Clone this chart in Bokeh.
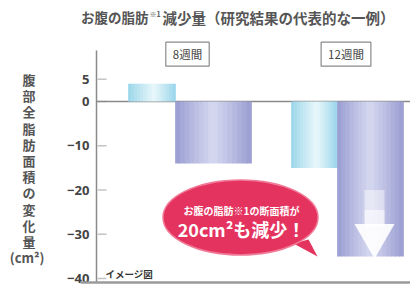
from bokeh.plotting import figure
from bokeh.models import Range1d, FixedTicker, Span, Label, LinearAxis
from bokeh.embed import file_html
from bokeh.resources import INLINE

# ---- data ----
groups = ["8週間", "12週間"]
series = ["対照", "試験"]
control = [4, -15]      # light cyan bars
test = [-14, -35]       # purple bars
y_ticks = [5, 0, -10, -20, -30, -40]
title_a = "お腹の脂肪"
title_note = "※1"
title_b = "減少量（研究結果の代表的な一例）"
y_label_chars = list("腹部全脂肪面積の変化量") + ["(cm²)"]
callout_small = "お腹の脂肪※1の断面積が"
image_note = "イメージ図"

# ---- layout (x units are screen pixels, 0 = value axis) ----
CYAN_X = [55.5, 218]
CYAN_W = [47, 46]
PURP_X = [117, 274]
PURP_W = [76, 66]
GROUP_X = [91, 249.5]
JP = "Noto Sans CJK JP"
X_LEFT, X_RIGHT = -16, 314
Y_TOP, Y_BOT = 22.82, -42.03
AXIS_TOP = 11.5
BOTTOM_LINE = -40.9

p = figure(width=410, height=287, output_backend="svg", toolbar_location=None,
           x_range=Range1d(X_LEFT, X_RIGHT), y_range=Range1d(Y_BOT, Y_TOP),
           x_axis_location=None, min_border_left=80, min_border_right=0,
           min_border_top=0, min_border_bottom=0)
p.outline_line_color = None
p.xgrid.visible = False
p.ygrid.visible = False
p.background_fill_color = "white"
p.border_fill_color = "white"

ax = p.yaxis[0]
ax.ticker = FixedTicker(ticks=y_ticks)
ax.axis_line_color = None
ax.major_tick_in = 0
ax.major_tick_out = 0
ax.major_tick_line_color = None
ax.minor_tick_line_color = None
ax.major_label_text_font = "Noto Sans"
ax.major_label_text_font_style = "bold"
ax.major_label_text_font_size = "13px"
ax.major_label_text_color = "#444444"
ax.major_label_standoff = -9

# stacked vertical axis title, drawn as a label-only axis
PAD = "\u2002\u2009"
STEP = 16.2
p.extra_y_ranges = {"lab": Range1d(79 / STEP - 287 / STEP, 79 / STEP)}
lab_ax = LinearAxis(y_range_name="lab")
lab_ax.ticker = FixedTicker(ticks=[-k for k in range(len(y_label_chars))])
lab_ax.major_label_overrides = {-k: (c + PAD if len(c) == 1 else c) for k, c in enumerate(y_label_chars)}
lab_ax.axis_line_color = None
lab_ax.major_tick_line_color = None
lab_ax.minor_tick_line_color = None
lab_ax.major_label_standoff = 14
lab_ax.major_label_text_font = JP
lab_ax.major_label_text_font_style = "bold"
lab_ax.major_label_text_font_size = "13px"
lab_ax.major_label_text_color = "#555555"
p.add_layout(lab_ax, "left")


def hexrgb(h):
    h = h.lstrip("#")
    return tuple(int(h[i:i + 2], 16) for i in (0, 2, 4))


def mix(a, b, f):
    ca, cb = hexrgb(a), hexrgb(b)
    return "#%02x%02x%02x" % tuple(int(round(ca[i] + (cb[i] - ca[i]) * f)) for i in range(3))


def grad_bar(xc, w, val, edge, center, peak=0.5, n=16):
    xs, ws, cols = [], [], []
    for i in range(n):
        t = (i + 0.5) / n
        d = (t - peak) / (peak if t < peak else 1 - peak)
        f = max(0.0, 1 - abs(d)) ** 0.9
        xs.append(xc - w / 2 + (i + 0.5) * w / n)
        ws.append(w / n + 0.7)
        cols.append(mix(edge, center, f))
    p.vbar(x=xs, width=ws, top=[val] * n, bottom=[0] * n,
           fill_color=cols, line_color=None)


# axis line, tick marks, zero line, bottom line
p.segment(x0=[0], y0=[BOTTOM_LINE], x1=[0], y1=[AXIS_TOP], line_color="#8a8a8a", line_width=1.5)
p.segment(x0=[1] * len(y_ticks), y0=y_ticks, x1=[10] * len(y_ticks), y1=y_ticks,
          line_color="#c4c4c4", line_width=1.5)
p.segment(x0=[0], y0=[0], x1=[X_RIGHT], y1=[0], line_color="#8a8a8a", line_width=1.5)
p.add_layout(Span(location=BOTTOM_LINE, dimension="width", line_color="#9a9a9a", line_width=2.5))

for i in range(len(groups)):
    grad_bar(CYAN_X[i], CYAN_W[i], control[i], "#98d5ea", "#e8f7fb", peak=0.55)
    grad_bar(PURP_X[i], PURP_W[i], test[i], "#979bd0", "#d6d8f0", peak=0.5)

# down arrow in the big bar
ax_x = PURP_X[1] + 4
tip = test[1] + 2.0
p.vbar(x=[ax_x], width=[20], top=[tip + 13], bottom=[tip + 4.8],
       fill_color="white", fill_alpha=0.45, line_color=None)
p.vbar(x=[ax_x], width=[20], top=[tip + 8.5], bottom=[tip + 4.8],
       fill_color="white", fill_alpha=0.5, line_color=None)
p.scatter(x=[ax_x], y=[tip + 2.7], marker="inverted_triangle", size=40,
          fill_color="white", fill_alpha=0.92, line_color=None)

# group header boxes
for i, g in enumerate(groups):
    p.add_layout(Label(x=GROUP_X[i], y=10.7, text=g, text_align="center", text_baseline="middle",
                       text_font=JP, text_font_size="11.5px", text_color="#444444",
                       border_line_color="#8a8a8a", border_line_width=1.2,
                       background_fill_color="white", padding=(7, 4)))

# title
p.add_layout(Label(x=52, y=19.0, text=title_a, text_align="right", text_baseline="middle",
                   text_font=JP, text_font_style="bold", text_font_size="13.5px", text_color="#555555"))
p.add_layout(Label(x=53, y=19.8, text=title_note, text_align="left", text_baseline="middle",
                   text_font=JP, text_font_style="bold", text_font_size="7px", text_color="#555555"))
p.add_layout(Label(x=66, y=19.0, text=title_b, text_align="left", text_baseline="middle",
                   text_font=JP, text_font_style="bold", text_font_size="14.5px", text_color="#555555"))

# image note
p.add_layout(Label(x=9, y=-38.9, text=image_note, text_align="left", text_baseline="middle",
                   text_font=JP, text_font_style="bold", text_font_size="9.5px", text_color="#333333"))

# callout
cx, cy = 144, -26.2
p.patch(x=[cx + 53, cx + 68, cx + 77], y=[cy - 5.9, cy - 5.0, cy - 8.8],
        fill_color="#e4335f", line_color=None)
p.ellipse(x=[cx], y=[cy], width=[155], height=[75], width_units="screen", height_units="screen",
          fill_color="#e4335f", line_color="#f07a97", line_width=1.5)
p.add_layout(Label(x=cx + 1, y=cy + 1.6, text=callout_small, text_align="center", text_baseline="middle",
                   text_font=JP, text_font_style="bold", text_font_size="10px", text_color="white"))
p.add_layout(Label(x=cx + 1, y=cy - 2.5, text=f"{control[1] - test[1]}cm²も減少！",
                   text_align="center", text_baseline="middle",
                   text_font=JP, text_font_style="bold", text_font_size="18px", text_color="white"))

open("out.html", "w").write(file_html(p, INLINE))
